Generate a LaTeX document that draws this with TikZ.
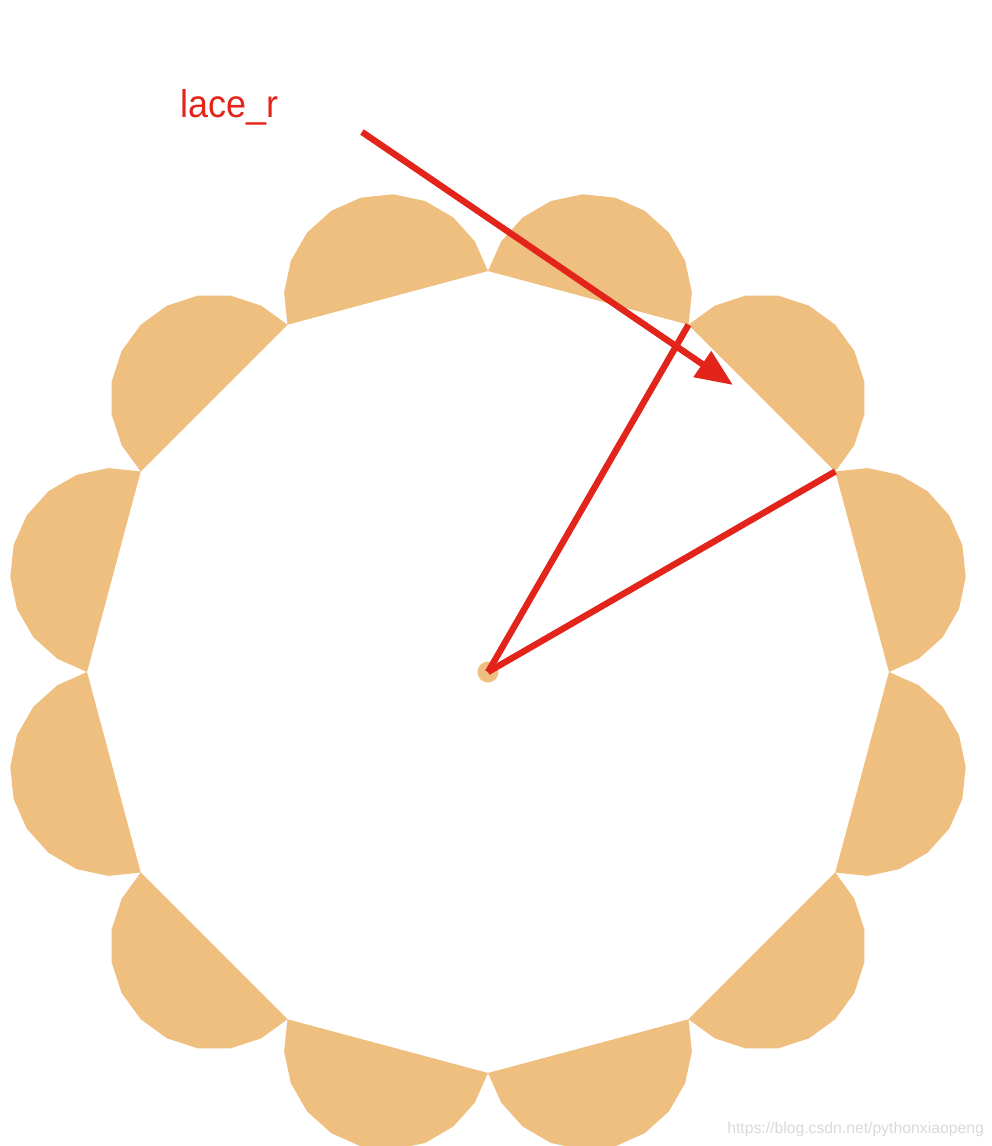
\documentclass[tikz,border=0pt]{standalone}
\usepackage{fontspec}
\setmainfont{Liberation Sans}
\usetikzlibrary{arrows.meta}
\definecolor{petal}{HTML}{EFBF7F}
\definecolor{lacered}{HTML}{E2241A}
\tikzset{
	redline/.style={draw=lacered, line width=0.16cm},
}
\begin{document}
\begin{tikzpicture}[x=0.025cm,y=0.025cm]
			\useasboundingbox (-488,-474) rectangle (504,672);
			\foreach \a in {0,30,...,330}{
				\fill[petal] plot[samples=11,domain=0:180,variable=\t]
					({387.3*cos(\a+15)+103.8*cos(\a-75+\t)},{387.3*sin(\a+15)+103.8*sin(\a-75+\t)}) -- cycle;
				\coordinate (v\a) at (\a:401);
			}
			\coordinate (o) at (0,0);
			\fill[petal] (o) circle (10.5);
			\draw[redline] (o) -- (v60);
			\draw[redline] (o) -- (v30);
			\coordinate (tail) at (-126,540);
			\coordinate (head) at (245,287);
			\draw[redline, -{Triangle[length=0.93cm,width=0.75cm]}] (tail) -- (head);
			\node[lacered, anchor=base west, inner sep=0, font=\fontsize{27.5}{33}\selectfont, xscale=0.93, transform shape] (lbl) at (-308,554) {lace\_r};
			\node[gray!30, anchor=base west, inner sep=0, font=\fontsize{11.2}{13}\selectfont] (wm) at (239,-461) {https://blog.csdn.net/pythonxiaopeng};
		\end{tikzpicture}
\end{document}
